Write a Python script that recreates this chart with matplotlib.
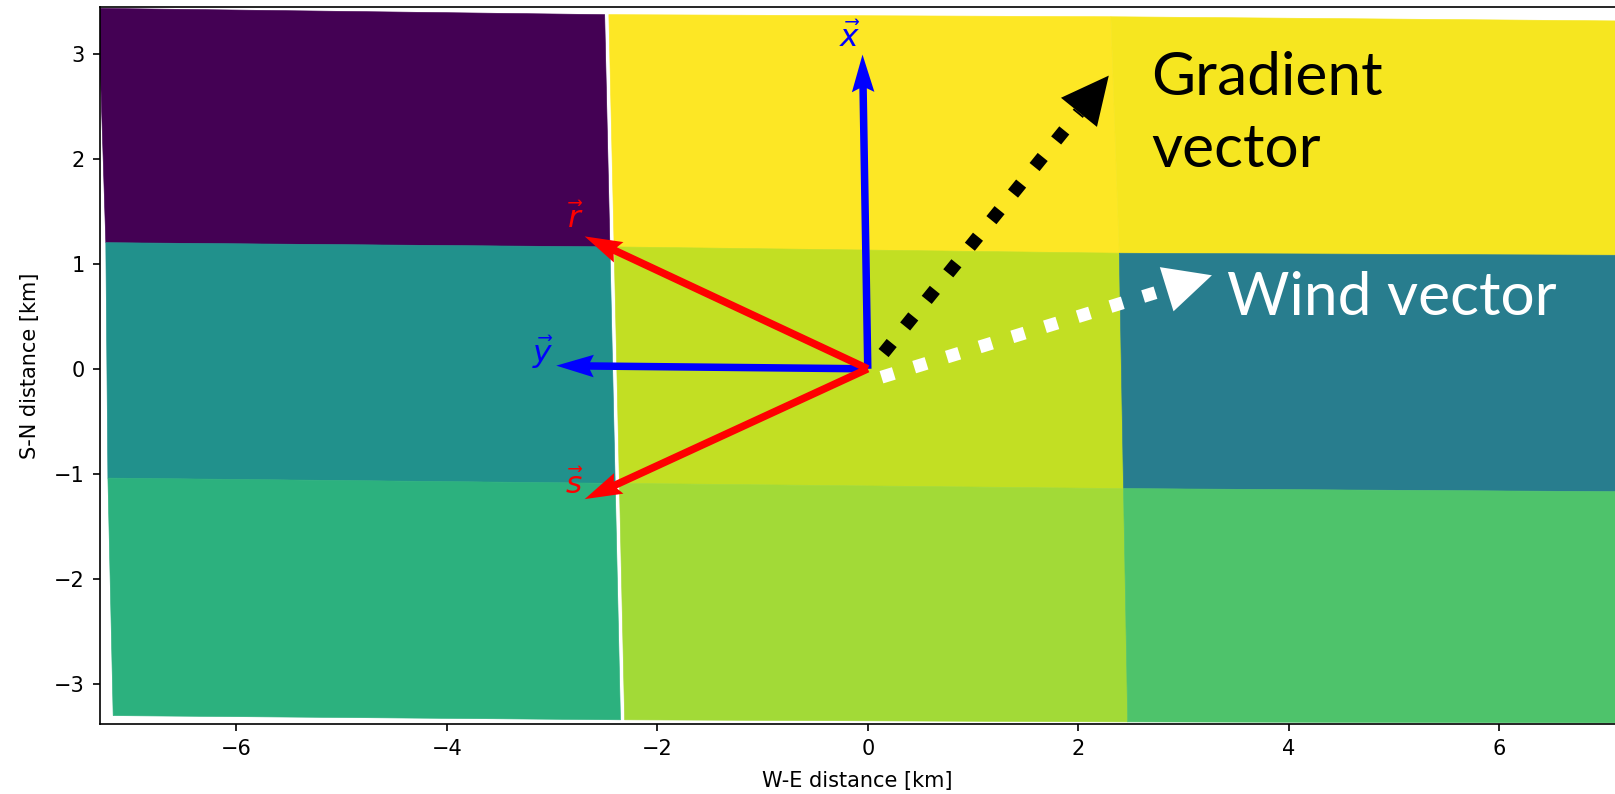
import numpy as np
import matplotlib
matplotlib.use("Agg")
import matplotlib.pyplot as plt
from matplotlib.collections import PolyCollection

# ---------------- data ----------------
# grid nodes (km): rows north -> south, columns west -> east
node_x = np.array([[-7.31, -2.48, 2.31, 7.15],
                   [-7.24, -2.43, 2.39, 7.20],
                   [-7.22, -2.38, 2.43, 7.24],
                   [-7.17, -2.33, 2.47, 7.28]])
node_y = np.array([[3.43, 3.37, 3.35, 3.31],
                   [1.20, 1.16, 1.10, 1.08],
                   [-1.04, -1.09, -1.14, -1.17],
                   [-3.30, -3.34, -3.36, -3.37]])
# cell values (normalised), rows north -> south
cell_values = np.array([[0.00, 1.00, 0.985],
                        [0.50, 0.91, 0.42],
                        [0.64, 0.86, 0.72]])

# unit / basis vectors from the origin (km)
vec_x = (-0.05, 2.99)
vec_y = (-2.96, 0.03)
vec_r = (-2.69, 1.26)
vec_s = (-2.69, -1.24)

# gradient and wind vectors (start, tip)
grad_start = (0.15, 0.15)
grad_tip = (2.29, 2.79)
wind_start = (0.13, -0.08)
wind_tip = (3.27, 0.89)

x_ticks = [-6, -4, -2, 0, 2, 4, 6]
y_ticks = [-3, -2, -1, 0, 1, 2, 3]

# ---------------- figure ----------------
DPI = 150
fig = plt.figure(figsize=(1615 / DPI, 794 / DPI), dpi=DPI)
ax = fig.add_axes([99.5 / 1615, 1 - 724 / 794, 1 - 99.5 / 1615, (724 - 7.3) / 794])

gap = 0.04
polys = []
vals = []
for i in range(3):
    for j in range(3):
        xs = [node_x[i, j], node_x[i, j + 1], node_x[i + 1, j + 1], node_x[i + 1, j]]
        ys = [node_y[i, j], node_y[i, j + 1], node_y[i + 1, j + 1], node_y[i + 1, j]]
        if j == 0:
            xs[1] -= gap / 2
            xs[2] -= gap / 2
        if j == 1:
            xs[0] += gap / 2
            xs[3] += gap / 2
        polys.append(list(zip(xs, ys)))
        vals.append(cell_values[i, j])

pc = PolyCollection(polys, array=np.array(vals), cmap="viridis",
                    edgecolors="face", linewidths=0.3, zorder=1)
pc.set_clim(0, 1)
ax.add_collection(pc)

# basis vectors
qkw = dict(angles="xy", scale_units="xy", scale=1, units="dots", width=7.5,
           headwidth=3, headlength=5, headaxislength=4.5)
ax.quiver([0, 0], [0, 0], [vec_x[0], vec_y[0]], [vec_x[1], vec_y[1]],
          color="#0000ff", zorder=3, **qkw)
ax.quiver([0, 0], [0, 0], [vec_r[0], vec_s[0]], [vec_r[1], vec_s[1]],
          color="#ff0000", zorder=4, **qkw)

lab_kw = dict(fontsize=15, ha="center", va="center")
ax.text(-0.17, 3.15, r"$\vec{x}$", color="#0000ff", **lab_kw)
ax.text(-3.09, 0.16, r"$\vec{y}$", color="#0000ff", **lab_kw)
ax.text(-2.78, 1.43, r"$\vec{r}$", color="#ff0000", **lab_kw)
ax.text(-2.79, -1.10, r"$\vec{s}$", color="#ff0000", **lab_kw)

# dotted vectors with triangular heads
HEAD_L = 0.45
HEAD_W = 0.44


def dotted_vector(start, tip, color):
    s = np.array(start, float)
    t = np.array(tip, float)
    d = t - s
    u = d / np.hypot(*d)
    base = t - u * HEAD_L
    ax.plot([s[0], base[0]], [s[1], base[1]], color=color, lw=6.2, ls=":",
            dash_capstyle="butt", zorder=5)
    ax.arrow(base[0], base[1], u[0] * HEAD_L, u[1] * HEAD_L, width=0.0,
             head_width=HEAD_W, head_length=HEAD_L, length_includes_head=True,
             fc=color, ec="none", zorder=6)


dotted_vector(grad_start, grad_tip, "black")
dotted_vector(wind_start, wind_tip, "white")

# multi-line text: baseline alignment refers to the last line
ax.text(2.69, 1.92, "Gradient\nvector", fontsize=29, family="Lato",
        ha="left", va="baseline", color="black", linespacing=1.42, zorder=7)
ax.text(3.41, 0.51, "Wind vector", fontsize=29, family="Lato",
        ha="left", va="baseline", color="white", zorder=7)

ax.set_xlim(-7.30, 7.10)
ax.set_ylim(-3.38, 3.44)
ax.set_xticks(x_ticks)
ax.set_yticks(y_ticks)
ax.spines["right"].set_visible(False)
ax.set_xlabel("W-E distance [km]", labelpad=6)
ax.set_ylabel("S-N distance [km]", labelpad=7)

fig.savefig("out.png", dpi=DPI)
